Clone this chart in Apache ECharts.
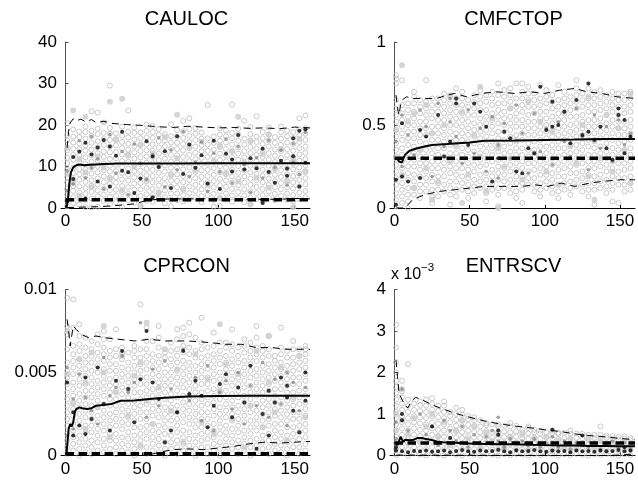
<!DOCTYPE html>
<html>
<head>
<meta charset="utf-8">
<script src="https://cdn.jsdelivr.net/npm/echarts@6/dist/echarts.min.js"></script>
<style>
  html, body { margin: 0; padding: 0; background: #fff; }
  #chart { width: 638px; height: 481px; }
</style>
</head>
<body>
<div id="chart"></div>
<script>
// Sample positions shared by all four panels (x = iteration)
const columnX = [1, 5, 9, 13, 17, 21, 25, 29, 33, 37,
                 41, 45, 49, 53, 57, 61, 65, 69, 73, 77,
                 81, 85, 89, 93, 97, 101, 105, 109, 113, 117,
                 121, 125, 129, 133, 137, 141, 145, 149, 153, 157];

const xTicks = [0, 50, 100, 150];

// ---------- CAULOC ----------
const cauHollow = [
  "0.4 1.8 3.3 4.6 6.1 7.4 9.2 10.8 12.1 13.9 16.3 17.6 20.4",
  "1.2 2.6 4.1 5.3 6.9 8.4 9.7 11.6 12.8 14.3 15.8 17.2 18.9",
  "0.8 2.4 3.7 5.2 6.8 8.1 9.4 11.1 12.6 14.2 15.6 17.1 18.4",
  "0.2 1.9 3.4 4.8 6.3 7.7 9.3 10.6 12.2 13.8 15.1 16.7 18.3 19.6",
  "0.1 2.3 3.9 5.4 6.7 8.3 9.8 11.2 12.7 14.1 15.7 17.3 18.6 23.3",
  "0.3 2.8 4.2 5.7 7.1 8.6 10.1 11.4 13.2 14.6 16.1 17.8 19.1 23.0",
  "1.7 3.2 4.7 6.2 7.6 9.1 10.7 12.3 13.6 15.2 16.6 18.1",
  "0.9 2.7 4.3 5.8 7.3 8.8 10.2 11.8 13.4 14.8 16.4 17.9 19.3 29.5",
  "1.4 2.9 4.4 6.1 7.5 8.9 10.4 12.0 13.5 15.1 16.6 18.0",
  "0.3 2.2 3.8 5.3 6.9 8.4 9.9 11.3 12.9 14.4 15.9 17.4 19.6",
  "1.9 3.4 5.0 6.6 8.0 9.5 11.1 12.6 14.0 15.5 17.0 18.4 23.5",
  "1.3 2.8 4.4 5.9 7.4 8.9 10.5 11.9 13.4 14.9 16.5 18.1 19.4",
  "0.4 2.9 4.5 6.0 7.6 9.0 10.6 12.2 13.7 15.3 16.8 18.2",
  "1.8 3.3 4.9 6.4 7.9 9.4 10.9 12.4 13.9 15.4 17.0 18.6 20.1",
  "1.5 3.1 4.6 6.2 7.7 9.2 10.8 12.3 13.8 15.3 16.9 18.3 19.8",
  "2.3 3.8 5.4 6.9 8.5 10.0 11.5 13.1 14.6 16.1 17.6 19.0",
  "1.1 2.6 4.2 5.7 7.2 8.8 10.3 11.9 13.4 14.9 16.3 17.8",
  "0.4 2.0 3.5 5.1 6.6 8.2 9.7 11.2 12.8 14.3 15.8 17.3 20.2",
  "1.9 3.5 5.0 6.5 8.1 9.6 11.1 12.7 14.2 15.7 17.2 18.8",
  "1.6 3.1 4.7 6.2 7.7 9.3 10.8 12.3 13.9 15.4 16.9 18.5 21.0",
  "2.1 3.6 5.2 6.7 8.2 9.8 11.3 12.8 14.4 15.9 17.4 19.0 21.6",
  "2.6 4.1 5.6 7.2 8.7 10.2 11.8 13.3 14.8 16.4 17.9 19.3",
  "1.4 2.9 4.5 6.0 7.5 9.1 10.6 12.1 13.7 15.2 16.7 18.2",
  "3.1 4.6 6.2 7.7 9.2 10.7 12.3 13.8 15.3 16.8 24.8",
  "0.3 1.9 3.4 5.0 6.5 8.0 9.6 11.1 12.6 14.1 15.7 17.2",
  "0.5 2.4 4.0 5.5 7.0 8.6 10.1 11.6 13.1 14.7 16.2 17.7 19.2",
  "2.0 3.5 5.1 6.6 8.1 9.7 11.2 12.7 14.2 15.8 17.3 18.7",
  "1.5 3.0 4.6 6.1 7.6 9.2 10.7 12.2 13.7 15.3 16.8 18.1 24.9",
  "2.4 3.9 5.5 7.0 8.5 10.1 11.6 13.1 14.6 16.2 17.7 19.1",
  "1.4 3.0 4.5 6.1 7.6 9.1 10.7 12.2 13.7 15.3 16.7 21.0",
  "0.9 2.5 4.0 5.6 7.1 8.6 10.2 11.7 13.2 14.7 16.3 17.8 19.5",
  "2.1 3.6 5.1 6.7 8.2 9.7 11.3 12.8 14.3 15.9 17.2 22.1",
  "1.6 3.1 4.6 6.2 7.7 9.2 10.8 12.3 13.8 15.4 16.8 18.3",
  "2.5 4.0 5.6 7.1 8.6 10.2 11.7 13.2 14.8 16.3 17.7 19.4",
  "1.9 3.4 5.0 6.5 8.0 9.6 11.1 12.6 14.1 15.7 17.1",
  "2.9 4.5 6.0 7.5 9.1 10.6 12.1 13.7 15.2 16.7 18.2 19.6",
  "2.0 3.5 5.0 6.6 8.1 9.6 11.2 12.7 14.2 15.8 17.3 18.6",
  "1.6 3.1 4.7 6.2 7.7 9.3 10.8 12.3 13.8 15.4 16.9 18.3",
  "2.2 3.7 5.2 6.8 8.3 9.8 11.4 12.9 14.4 15.9 17.5 18.9 21.6",
  "2.6 4.1 5.7 7.2 8.7 10.3 11.8 13.3 14.8 16.4 17.9 19.2 22.3"
];
const cauFilled = [
  "8.2 14.5", "23.5 6.1", "3.0 11.8", "22.0 8.6", "5.0", "12.4", "20.6 9.7", "25.6 7.0", "16.4", "26.3 4.2",
  "12.9", "9.9", "0.6 15.1", "6.8", "13.2", "10.4 3.6", "17.1", "7.9", "22.5 12.0", "4.4",
  "14.7", "9.1", "16.0", "5.6", "11.3", "2.3 15.0", "8.4", "13.6", "22.0 6.4", "10.9",
  "0.9 16.1", "7.3", "13.0", "4.9 17.7", "9.4", "14.2", "6.3", "0.2 11.5", "16.7", "8.9"
];
const cauGray = [
  "9.0 4.2", "5.8", "16.2", "7.3", "17.2 9.7", "11.8", "4.6", "17.7", "8.4", "13.6",
  "3.2", "15.4", "10.7", "6.9", "12.8", "16.9", "5.1", "14.0", "9.2", "18.4",
  "7.6", "11.1", "15.9", "4.0", "13.2", "8.7", "16.6", "6.0", "14.8", "10.5",
  "3.8", "12.1", "7.2", "16.3", "9.8", "13.9", "5.5", "15.5 11.0", "8.1", "18.2"
];
const cauBlack = [
  "1.6", "12.3 7.0", "13.6", "15.7 2.3", "12.9", "14.6 6.4", "16.4", "14.8 5.2", "12.6", "18.4 9.0",
  "8.6", "3.6", "7.1", "16.1", "12.4 2.6", "9.9", "13.7", "4.8", "17.3", "8.2",
  "15.3", "9.7", "12.7", "5.9", "16.2", "4.6", "13.1", "11.7 8.8", "17.6", "9.3",
  "12.0", "9.6", "1.2 14.3", "8.7", "6.1", "11.4", "9.5 7.8", "16.8 12.5", "18.6 5.2", "19.0 10.9"
];
const cauMean = [[0.5, 0], [1.5, 1.8], [2.5, 6.0], [3.5, 8.6], [5, 9.8], [7, 10.3], [9, 10.5], [12, 10.3],
  [16, 10.4], [20, 10.5], [25, 10.6], [35, 10.7], [50, 10.7], [70, 10.7], [100, 10.8], [130, 10.8], [160, 10.8]];
const cauUpper = [[1, 14.5], [2, 18.5], [3, 20.5], [5, 21.5], [7, 21.0], [10, 21.4], [13, 20.8], [17, 21.3],
  [20, 20.6], [25, 20.9], [30, 20.4], [40, 20.1], [50, 19.9], [60, 19.6], [70, 19.4], [80, 19.7], [90, 19.5],
  [100, 19.3], [110, 19.4], [120, 19.2], [130, 19.3], [140, 19.1], [150, 19.5], [160, 19.3]];
const cauLower = [[1, 0.1], [10, 0.2], [20, 0.3], [30, 0.5], [40, 0.8], [45, 1.0], [50, 1.5], [55, 1.9],
  [60, 2.1], [70, 2.2], [80, 2.2], [100, 2.2], [120, 2.1], [140, 2.1], [150, 2.3], [160, 2.2]];
const cauRef = 2;

// ---------- CMFCTOP ----------
const cmfHollow = [
  ".01 .05 .09 .14 .18 .22 .26 .31 .35 .39 .43 .47 .52 .56 .60 .65 .75 .78 .80",
  ".03 .07 .11 .15 .19 .24 .28 .32 .36 .41 .45 .49 .53 .57 .62 .77",
  ".00 .04 .08 .12 .17 .21 .25 .29 .33 .38 .42 .46 .50 .55 .59 .63",
  ".08 .12 .16 .20 .25 .29 .33 .37 .42 .46 .50 .54 .58 .63 .67 .70",
  ".06 .10 .14 .19 .23 .27 .31 .35 .40 .44 .48 .52 .57 .61 .65",
  ".10 .14 .18 .22 .27 .31 .35 .39 .44 .48 .52 .56 .60 .64 .77",
  ".03 .07 .11 .16 .20 .24 .28 .33 .37 .41 .45 .49 .54 .58 .62 .66",
  ".07 .11 .15 .19 .24 .28 .32 .36 .41 .45 .49 .53 .58 .62 .66",
  ".10 .14 .19 .23 .27 .31 .36 .40 .44 .48 .53 .57 .61 .65 .69",
  ".02 .08 .12 .16 .21 .25 .29 .33 .38 .42 .46 .50 .55 .59 .63 .67",
  ".07 .11 .16 .20 .24 .28 .33 .37 .41 .45 .50 .54 .58 .62 .66 .72",
  ".11 .15 .19 .24 .28 .32 .36 .41 .45 .49 .53 .57 .62 .66 .70",
  ".06 .10 .14 .18 .23 .27 .31 .35 .40 .44 .48 .52 .56 .61 .65",
  ".09 .13 .17 .22 .26 .30 .34 .39 .43 .47 .51 .56 .60 .64 .68",
  ".12 .16 .20 .25 .29 .33 .37 .42 .46 .50 .54 .59 .63 .67 .71",
  ".04 .09 .13 .17 .21 .26 .30 .34 .38 .43 .47 .51 .55 .59 .64 .68",
  ".11 .15 .19 .23 .28 .32 .36 .40 .45 .49 .53 .57 .62 .66 .70",
  ".01 .08 .12 .17 .21 .25 .29 .34 .38 .42 .46 .51 .55 .59 .63 .68 .75",
  ".12 .16 .20 .24 .29 .33 .37 .41 .46 .50 .54 .58 .63 .67 .71",
  ".09 .13 .17 .22 .26 .30 .34 .39 .43 .47 .51 .55 .60 .64 .68 .72",
  ".06 .10 .15 .19 .23 .27 .32 .36 .40 .44 .49 .53 .57 .61 .66 .75",
  ".03 .11 .15 .19 .24 .28 .32 .36 .41 .45 .49 .53 .58 .62 .66 .70 .75",
  ".14 .18 .22 .27 .31 .35 .39 .44 .48 .52 .56 .61 .65 .69 .73",
  ".10 .14 .18 .23 .27 .31 .35 .40 .44 .48 .52 .57 .61 .65 .69",
  ".07 .11 .15 .20 .24 .28 .32 .37 .41 .45 .49 .54 .58 .62 .66 .74",
  ".12 .16 .20 .25 .29 .33 .37 .42 .46 .50 .54 .58 .63 .67 .71",
  ".09 .13 .17 .21 .26 .30 .34 .38 .43 .47 .51 .55 .60 .64 .68",
  ".06 .10 .14 .19 .23 .27 .31 .36 .40 .44 .48 .53 .57 .61 .65 .74",
  ".11 .15 .19 .24 .28 .32 .36 .41 .45 .49 .53 .57 .62 .66 .70",
  ".08 .12 .16 .21 .25 .29 .33 .38 .42 .46 .50 .55 .59 .63 .67",
  ".13 .17 .21 .26 .30 .34 .38 .43 .47 .51 .55 .60 .64 .68 .72 .77",
  ".10 .14 .18 .22 .27 .31 .35 .39 .44 .48 .52 .56 .61 .65 .69",
  ".07 .11 .15 .20 .24 .28 .32 .37 .41 .45 .49 .53 .58 .62 .66 .72",
  ".02 .11 .15 .19 .24 .28 .32 .36 .41 .45 .49 .53 .58 .62 .66 .70",
  ".12 .16 .20 .25 .29 .33 .37 .42 .46 .50 .54 .59 .63 .67 .71",
  ".09 .13 .17 .22 .26 .30 .34 .39 .43 .47 .51 .56 .60 .64 .68",
  ".04 .11 .15 .19 .24 .28 .32 .36 .41 .45 .49 .53 .58 .62 .66 .70",
  ".03 .14 .18 .22 .27 .31 .35 .39 .44 .48 .52 .56 .61 .65 .69",
  ".10 .14 .18 .23 .27 .31 .35 .40 .44 .48 .52 .57 .61 .65 .69",
  ".11 .15 .19 .24 .28 .32 .36 .41 .45 .49 .53 .58 .62 .66 .70"
];
const cmfFilled = [
  ".47 .30", ".86 .20", ".52", ".12 .57", ".35", ".62 .24", ".45 .05", ".16", ".50", ".28 .68",
  ".38", ".58 .03", ".20", ".44", ".73 .31", ".10", ".54", ".00 .36", ".25", ".60",
  ".41", ".17", ".64", ".33", ".52", ".22", ".46", ".14", ".58", ".37",
  ".27", ".50", ".67 .19", ".05 .40", ".30", ".56", ".22", ".48", ".35", ".69 .15"
];
const cmfGray = [
  ".40", ".25 .56", ".44", ".32", ".59", ".49", ".19", ".63", ".37", ".66 .52",
  ".43", ".27", ".59", ".33", ".48", ".22", ".55", ".38 .18", ".51", ".30",
  ".62", ".45", ".21", ".57", ".34", ".48", ".26", ".52", ".40", ".31",
  ".60", ".43", ".23", ".56", ".36", ".49", ".28", ".53", ".38", ".45"
];
const cmfBlack = [
  ".02 .17", ".51 .19", ".16", "", ".18 .47", ".43", "", ".56", ".31", ".40",
  ".66 .63", "", ".38", ".63", ".58", ".49", ".16", ".30", ".46", ".42",
  ".22", ".21", ".36", ".33", ".73", ".47", ".64 .49", ".50", ".58", ".39",
  ".65", ".44", ".46 .75", ".41", ".49", ".36", ".29", ".56 .60", ".53 .33", ".43"
];
const cmfMean = [[0.5, 0.30], [2, 0.295], [3, 0.28], [4, 0.27], [5, 0.275], [6, 0.30], [7, 0.32], [8, 0.33],
  [10, 0.345], [15, 0.36], [20, 0.37], [25, 0.38], [35, 0.385], [50, 0.395], [60, 0.405], [80, 0.407],
  [100, 0.41], [120, 0.412], [140, 0.415], [160, 0.415]];
const cmfUpper = [[1, 0.68], [2, 0.60], [3, 0.56], [4, 0.62], [5, 0.65], [8, 0.67], [12, 0.66], [20, 0.66],
  [28, 0.66], [35, 0.68], [40, 0.69], [48, 0.67], [58, 0.69], [68, 0.70], [80, 0.69], [90, 0.70], [100, 0.69],
  [110, 0.71], [120, 0.72], [128, 0.70], [138, 0.69], [148, 0.67], [160, 0.66]];
const cmfLower = [[1, 0.00], [5, 0.00], [8, 0.01], [12, 0.05], [20, 0.08], [30, 0.10], [40, 0.11], [50, 0.12],
  [60, 0.13], [75, 0.13], [85, 0.13], [93, 0.14], [102, 0.13], [111, 0.15], [120, 0.13], [130, 0.15],
  [138, 0.16], [150, 0.17], [160, 0.17]];
const cmfRef = 0.3;

// ---------- CPRCON (values in units of 1e-3) ----------
const cprHollowMilli = [
  "0.1 0.5 0.9 1.3 1.8 2.2 2.6 3.0 3.4 3.8 4.3 4.7 5.1 5.6 6.4 7.3 7.8 9.5",
  "0.3 0.7 1.1 1.5 1.9 2.4 2.8 3.2 3.6 4.0 4.4 4.9 5.3 5.7 6.1 6.6 7.7 9.4",
  "0.0 0.4 0.8 1.2 1.7 2.1 2.5 2.9 3.3 3.7 4.2 4.6 5.0 5.4 5.8 6.3 6.7 7.2 7.9",
  "0.2 0.6 1.0 1.4 1.8 2.3 2.7 3.1 3.5 3.9 4.3 4.8 5.2 5.6 6.0 6.5 7.1",
  "0.1 0.5 0.9 1.4 1.8 2.2 2.6 3.0 3.5 3.9 4.3 4.7 5.1 5.6 6.0 6.4 6.9",
  "0.3 0.8 1.2 1.6 2.0 2.4 2.9 3.3 3.7 4.1 4.5 5.0 5.4 5.8 6.2 6.7 7.3",
  "0.2 0.6 1.0 1.5 1.9 2.3 2.7 3.1 3.6 4.0 4.4 4.8 5.2 5.7 6.1 6.5 7.0 7.5",
  "0.4 0.9 1.3 1.7 2.1 2.5 3.0 3.4 3.8 4.2 4.6 5.1 5.5 5.9 6.3 7.0",
  "0.1 0.5 0.9 1.3 1.8 2.2 2.6 3.0 3.4 3.9 4.3 4.7 5.1 5.5 6.0 6.4 7.6",
  "0.3 0.7 1.1 1.6 2.0 2.4 2.8 3.2 3.7 4.1 4.5 4.9 5.3 5.8 6.2 6.5",
  "0.2 0.6 1.0 1.4 1.9 2.3 2.7 3.1 3.5 4.0 4.4 4.8 5.2 5.6 6.2",
  "0.0 0.4 0.8 1.2 1.7 2.1 2.5 2.9 3.3 3.8 4.2 4.6 5.0 5.4 5.9 6.3 6.6",
  "0.5 0.9 1.3 1.7 2.2 2.6 3.0 3.4 3.8 4.3 4.7 5.1 5.5 5.9 6.4 9.1",
  "0.1 0.5 1.0 1.4 1.8 2.2 2.6 3.1 3.5 3.9 4.3 4.7 5.2 5.6 6.0 6.4 6.9 7.7",
  "0.3 0.7 1.1 1.5 1.9 2.4 2.8 3.2 3.6 4.0 4.5 4.9 5.3 5.7 6.1 6.9",
  "0.2 0.6 1.0 1.4 1.8 2.3 2.7 3.1 3.5 3.9 4.4 4.8 5.2 5.6 6.0 6.5 7.1 7.8",
  "0.0 0.4 0.8 1.3 1.7 2.1 2.5 2.9 3.4 3.8 4.2 4.6 5.0 5.5 5.9 6.2",
  "0.4 0.8 1.2 1.6 2.1 2.5 2.9 3.3 3.7 4.2 4.6 5.0 5.4 5.8 6.3 6.8",
  "0.1 0.5 0.9 1.4 1.8 2.2 2.6 3.0 3.5 3.9 4.3 4.7 5.1 5.6 6.0 6.4 7.0 7.6",
  "0.3 0.7 1.1 1.5 2.0 2.4 2.8 3.2 3.6 4.1 4.5 4.9 5.3 5.7 6.2 6.6 7.2 7.7",
  "0.2 0.6 1.0 1.4 1.9 2.3 2.7 3.1 3.5 4.0 4.4 4.8 5.2 5.6 6.1 6.5 7.3 8.0",
  "0.0 0.4 0.8 1.2 1.7 2.1 2.5 2.9 3.3 3.8 4.2 4.6 5.0 5.4 5.9 6.3 7.1",
  "0.5 0.9 1.3 1.7 2.2 2.6 3.0 3.4 3.8 4.3 4.7 5.1 5.5 5.9 6.4 6.8 8.3",
  "0.1 0.5 1.0 1.4 1.8 2.2 2.6 3.1 3.5 3.9 4.3 4.7 5.2 5.6 6.0 6.5",
  "0.3 0.7 1.1 1.5 1.9 2.4 2.8 3.2 3.6 4.0 4.5 4.9 5.3 5.7 6.1 6.6 7.4",
  "0.0 0.4 0.8 1.3 1.7 2.1 2.5 2.9 3.4 3.8 4.2 4.6 5.0 5.5 5.9 6.3 6.8",
  "0.2 0.6 1.0 1.4 1.8 2.3 2.7 3.1 3.5 3.9 4.4 4.8 5.2 5.6 6.0 6.5 6.8",
  "0.4 0.8 1.2 1.6 2.1 2.5 2.9 3.3 3.7 4.2 4.6 5.0 5.4 5.8 6.3 6.7 7.6",
  "0.1 0.5 0.9 1.4 1.8 2.2 2.6 3.0 3.5 3.9 4.3 4.7 5.1 5.6 6.0 6.5",
  "0.3 0.7 1.1 1.5 2.0 2.4 2.8 3.2 3.6 4.1 4.5 4.9 5.3 5.7 6.2 6.6 7.0",
  "0.0 0.5 0.9 1.3 1.7 2.1 2.6 3.0 3.4 3.8 4.2 4.7 5.1 5.5 5.9 6.3 6.8",
  "0.2 0.6 1.0 1.5 1.9 2.3 2.7 3.1 3.6 4.0 4.4 4.8 5.2 5.7 6.1 6.5 7.1 7.8",
  "0.4 0.8 1.2 1.7 2.1 2.5 2.9 3.3 3.8 4.2 4.6 5.0 5.4 5.9 6.3 6.6",
  "0.1 0.5 0.9 1.3 1.8 2.2 2.6 3.0 3.4 3.9 4.3 4.7 5.1 5.5 6.0 6.4 7.2",
  "0.3 0.7 1.1 1.5 1.9 2.4 2.8 3.2 3.6 4.0 4.5 4.9 5.3 5.7 6.0",
  "0.2 0.6 1.0 1.4 1.9 2.3 2.7 3.1 3.5 4.0 4.4 4.8 5.2 5.6 6.1 6.5 7.7",
  "0.0 0.4 0.8 1.2 1.7 2.1 2.5 2.9 3.3 3.8 4.2 4.6 5.0 5.4 5.9 6.3",
  "0.5 0.9 1.3 1.7 2.2 2.6 3.0 3.4 3.8 4.3 4.7 5.1 5.5 5.9 6.4 6.9",
  "0.1 0.5 1.0 1.4 1.8 2.2 2.6 3.1 3.5 3.9 4.3 4.7 5.2 5.6 6.0 6.4",
  "0.3 0.7 1.1 1.5 1.9 2.4 2.8 3.2 3.6 4.0 4.5 4.9 5.3 5.7 6.1 6.4 6.6"
];
const cprFilledMilli = [
  "4.9 7.5", "3.1", "5.8", "1.6 4.4", "6.2", "2.9", "7.8 5.0", "1.1", "3.8", "6.0",
  "2.4", "4.8", "0.6 5.6", "8.0 3.3", "1.9", "4.1", "6.4", "2.7", "5.2", "0.8",
  "3.6", "6.1", "2.0", "4.6", "1.3", "7.9 3.9", "5.5", "2.2", "4.9", "0.5",
  "3.0", "6.3", "1.7", "7.2 4.4", "2.6", "5.3", "0.9", "3.5", "6.0", "2.3"
];
const cprGrayMilli = [
  "5.3 1.2", "3.4 1.6", "4.9", "3.5", "2.7", "1.9", "5.9", "3.6", "4.1", "6.0",
  "3.8", "4.4", "8.0", "2.3", "5.2", "3.0", "5.7", "4.0", "2.6", "6.4",
  "3.3", "4.7", "2.1", "5.4", "1.5", "3.8", "4.5", "2.8", "5.0", "1.9",
  "4.2", "3.0", "5.6", "2.3", "4.6", "3.1", "1.8 5.0", "4.4", "2.7", "4.1"
];
const cprBlackMilli = [
  "4.4", "1.2 2.6", "1.8", "4.7 1.3", "2.2", "5.3", "3.1", "1.5", "4.5", "6.3",
  "4.0", "2.0", "4.6", "7.5", "4.4", "3.4", "0.8", "1.5", "2.6", "6.3",
  "3.7", "4.5", "3.6", "1.7", "3.0", "4.3", "4.9", "2.3", "4.1", "3.2",
  "5.4", "0.4", "2.5", "3.9 1.2", "3.2", "4.7", "4.2 3.5", "2.7", "1.4", "5.0 3.3"
];
const cprMeanMilli = [[0.5, 0], [1.5, 0], [2, 1.6], [3, 1.9], [4, 1.75], [5, 2.0], [6, 2.6], [7, 2.8],
  [9, 2.9], [11, 2.85], [14, 2.8], [17, 2.85], [20, 3.0], [25, 3.05], [30, 3.1], [33, 3.2], [36, 3.3],
  [45, 3.32], [55, 3.4], [65, 3.48], [80, 3.55], [100, 3.58], [120, 3.6], [140, 3.6], [160, 3.6]];
const cprUpperMilli = [[1, 8.2], [2, 7.5], [3, 6.6], [4, 7.2], [5, 7.8], [7, 7.6], [10, 7.3], [15, 7.1],
  [20, 7.2], [25, 7.1], [35, 7.0], [45, 6.9], [55, 7.0], [65, 6.9], [80, 6.9], [95, 6.8], [105, 6.7],
  [115, 6.7], [125, 6.5], [135, 6.5], [145, 6.4], [160, 6.4]];
const cprLowerMilli = [[1, 0], [50, 0], [55, 0.05], [62, 0.2], [70, 0.35], [80, 0.4], [90, 0.35], [100, 0.45],
  [110, 0.55], [120, 0.7], [130, 0.8], [140, 0.75], [150, 0.8], [160, 0.85]];
const cprRefMilli = 0.1;

// ---------- ENTRSCV (values in units of 1e-3) ----------
const entHollow = [
  "0.02 0.15 0.3 0.45 0.6 0.75 0.9 1.05 1.2 1.35 1.5 1.65 1.8 2.0 2.25 2.6 3.15",
  "0.05 0.2 0.35 0.5 0.65 0.8 0.95 1.1 1.25 1.4 1.55 1.8",
  "0.0 0.15 0.3 0.45 0.6 0.75 0.9 1.05 1.2 1.35 2.2",
  "0.05 0.2 0.35 0.5 0.65 0.8 0.95 1.1 1.25",
  "0.02 0.17 0.32 0.47 0.62 0.77 0.92 1.07 1.22 1.3",
  "0.0 0.15 0.3 0.45 0.6 0.75 0.9 1.05 1.2 1.35",
  "0.05 0.2 0.35 0.5 0.65 0.8 0.95 1.1 1.25 1.38",
  "0.02 0.17 0.32 0.47 0.62 0.77 0.92 1.07 1.2",
  "0.0 0.15 0.3 0.45 0.6 0.75 0.9 1.05 1.2 1.3",
  "0.05 0.2 0.35 0.5 0.65 0.8 0.95 1.05",
  "0.02 0.16 0.3 0.44 0.58 0.72 0.86 1.0 1.15",
  "0.0 0.14 0.28 0.42 0.56 0.7 0.84 0.98 1.1",
  "0.04 0.18 0.32 0.46 0.6 0.74 0.88 0.95",
  "0.02 0.15 0.29 0.43 0.57 0.71 0.85 0.92",
  "0.0 0.14 0.28 0.42 0.56 0.7 0.85",
  "0.04 0.17 0.31 0.45 0.59 0.73 0.78",
  "0.02 0.15 0.29 0.43 0.57 0.75",
  "0.0 0.14 0.28 0.42 0.56 0.7 0.75",
  "0.03 0.16 0.3 0.44 0.58 0.72",
  "0.01 0.14 0.28 0.42 0.56 0.7 0.78",
  "0.04 0.17 0.31 0.45 0.58 0.72",
  "0.02 0.15 0.28 0.42 0.55 0.62",
  "0.0 0.13 0.27 0.4 0.53 0.66 0.7",
  "0.03 0.16 0.3 0.43 0.56 0.62",
  "0.01 0.14 0.27 0.4 0.53 0.6",
  "0.04 0.17 0.3 0.43 0.56",
  "0.02 0.15 0.28 0.41 0.54 0.6",
  "0.0 0.13 0.26 0.39 0.52 0.55",
  "0.03 0.16 0.29 0.42 0.55",
  "0.01 0.14 0.27 0.4 0.53 0.6",
  "0.04 0.17 0.3 0.43 0.53",
  "0.02 0.15 0.28 0.41 0.52",
  "0.0 0.13 0.26 0.39 0.5",
  "0.03 0.16 0.29 0.42 0.5",
  "0.01 0.14 0.27 0.4 0.5 0.7",
  "0.04 0.17 0.3 0.43 0.48",
  "0.02 0.15 0.28 0.4 0.47",
  "0.0 0.13 0.26 0.38 0.45",
  "0.03 0.16 0.28 0.4 0.46",
  "0.01 0.14 0.26 0.37 0.42"
];
const entFilled = [
  "1.0 0.6", "1.6 0.85", "0.5", "0.9", "0.35", "0.7", "1.0", "0.45", "0.8", "0.25",
  "0.6", "0.85", "0.4", "0.7", "0.2", "0.55", "0.35", "0.5", "0.2", "0.45",
  "0.3", "0.5", "0.15", "0.4", "0.25", "0.45", "0.1", "0.35", "0.2", "0.4",
  "0.15", "0.3", "0.4", "0.2", "0.35", "0.1", "0.3", "0.2", "0.35", "0.25"
];
const entGray = [
  "0.8 0.4", "1.6", "0.6", "0.3", "1.0", "0.5", "0.7", "0.25", "0.85", "0.6",
  "0.35", "0.7", "0.2", "0.5", "0.3", "0.45", "0.6", "0.92 0.35", "0.2", "0.4",
  "0.15", "0.35", "0.25", "0.4", "0.2", "0.3", "0.45", "0.2", "0.35", "0.15",
  "0.3", "0.25", "0.2", "0.3", "0.15", "0.25", "0.35", "0.2", "0.3", "0.15"
];
const entBlack = [
  "0.2 0.12", "1.0 0.85 0.1", "0.08", "0.11", "0.1", "0.12", "0.7 0.09", "0.1", "0.12", "0.42 0.08",
  "0.11", "0.13", "0.1", "0.09", "0.12", "0.1", "0.11", "0.6 0.5 0.14", "0.1", "0.08",
  "0.12", "0.1", "0.11", "0.13", "0.1", "0.09", "0.62 0.12", "0.1", "0.11", "0.08",
  "0.12", "0.48 0.1", "0.11", "0.09", "0.12", "0.1", "0.11", "0.13", "0.1 0.2", "0.12"
];
const entMean = [[0.5, 0.3], [1, 0.28], [2, 0.25], [3, 0.35], [4, 0.45], [5, 0.38], [6, 0.33], [7, 0.38],
  [8, 0.35], [10, 0.37], [11, 0.33], [13, 0.38], [15, 0.42], [18, 0.42], [21, 0.4], [24, 0.38], [28, 0.34],
  [32, 0.32], [40, 0.31], [50, 0.29], [60, 0.28], [70, 0.27], [80, 0.27], [90, 0.26], [100, 0.25],
  [110, 0.24], [120, 0.24], [130, 0.23], [140, 0.23], [150, 0.22], [160, 0.22]];
const entUpper = [[1, 2.3], [2, 1.9], [3, 1.5], [5, 1.35], [7, 1.2], [9, 1.15], [11, 1.3], [14, 1.4],
  [18, 1.35], [25, 1.22], [30, 1.15], [40, 1.02], [50, 0.92], [60, 0.83], [70, 0.76], [80, 0.71],
  [90, 0.67], [100, 0.62], [110, 0.58], [120, 0.52], [130, 0.48], [140, 0.45], [150, 0.41], [160, 0.38]];
const entLower = [[1, 0.01], [140, 0.0], [150, 0.01], [160, 0.04]];
const entRef = 0.3;

// ---------- helpers ----------
function columnPoints(cols, scale) {
  const pts = [];
  cols.forEach((s, i) => {
    s.split(' ').filter(Boolean).forEach(v => pts.push([columnX[i], Number(v) * scale]));
  });
  return pts;
}
function scaleLine(line, scale) {
  return line.map(p => [p[0], p[1] * scale]);
}

const panels = [
  { name: 'CAULOC', scale: 1, yMax: 40, yInt: 10, hollow: cauHollow, filled: cauFilled, gray: cauGray, black: cauBlack,
    mean: cauMean, upper: cauUpper, lower: cauLower, ref: cauRef,
    grid: { left: 61, top: 42, width: 249, height: 166 } },
  { name: 'CMFCTOP', scale: 1, yMax: 1, yInt: 0.5, hollow: cmfHollow, filled: cmfFilled, gray: cmfGray, black: cmfBlack,
    mean: cmfMean, upper: cmfUpper, lower: cmfLower, ref: cmfRef,
    grid: { left: 390, top: 42, width: 245, height: 166 } },
  { name: 'CPRCON', scale: 0.001, yMax: 0.01, yInt: 0.005, hollow: cprHollowMilli, filled: cprFilledMilli,
    gray: cprGrayMilli, black: cprBlackMilli, mean: cprMeanMilli, upper: cprUpperMilli, lower: cprLowerMilli,
    ref: cprRefMilli, grid: { left: 61, top: 289.5, width: 249, height: 166 } },
  { name: 'ENTRSCV', scale: 1, yMax: 4, yInt: 1, hollow: entHollow, filled: entFilled, gray: entGray, black: entBlack,
    mean: entMean, upper: entUpper, lower: entLower, ref: entRef,
    grid: { left: 390, top: 289.5, width: 245, height: 166 } }
];

const FONT = '"Liberation Sans", Arial, Helvetica, sans-serif';
const grids = [], xAxes = [], yAxes = [], series = [], graphics = [];

panels.forEach((p, i) => {
  grids.push(Object.assign({ containLabel: false, outerBoundsMode: 'none' }, p.grid));
  xAxes.push({
    gridIndex: i, type: 'value', min: -3, max: 160,
    axisLine: { show: true, onZero: false, lineStyle: { color: '#000', width: 1 } },
    axisTick: { show: true, inside: true, length: 3, customValues: xTicks, lineStyle: { color: '#000' } },
    axisLabel: { customValues: xTicks, color: '#000', fontSize: 17, fontFamily: FONT, margin: 5 },
    splitLine: { show: false }
  });
  yAxes.push({
    gridIndex: i, type: 'value', min: 0, max: p.yMax, interval: p.yInt,
    axisLine: { show: true, lineStyle: { color: '#555', width: 1 } },
    axisTick: { show: true, inside: true, length: 3, lineStyle: { color: '#555' } },
    axisLabel: { color: '#000', fontSize: 17, fontFamily: FONT, margin: 4 },
    splitLine: { show: false }
  });
  const base = { xAxisIndex: i, yAxisIndex: i, silent: true, animation: false };
  series.push(Object.assign({}, base, {
    type: 'scatter', symbol: 'circle', symbolSize: 5, z: 2,
    itemStyle: { color: 'rgba(255,255,255,0)', borderColor: '#bcbcbc', borderWidth: 1 },
    data: columnPoints(p.hollow, p.scale)
  }));
  series.push(Object.assign({}, base, {
    type: 'scatter', symbol: 'circle', symbolSize: 6, z: 2,
    itemStyle: { color: '#cccccc' },
    data: columnPoints(p.filled, p.scale)
  }));
  series.push(Object.assign({}, base, {
    type: 'scatter', symbol: 'circle', symbolSize: 3.6, z: 3,
    itemStyle: { color: '#888888' },
    data: columnPoints(p.gray, p.scale)
  }));
  series.push(Object.assign({}, base, {
    type: 'scatter', symbol: 'circle', symbolSize: 4, z: 4,
    itemStyle: { color: '#000' },
    data: columnPoints(p.black, p.scale)
  }));
  [p.upper, p.lower].forEach(line => {
    series.push(Object.assign({}, base, {
      type: 'line', symbol: 'none', z: 5,
      lineStyle: { color: '#000', width: 1, type: [7, 5] },
      data: scaleLine(line, p.scale)
    }));
  });
  series.push(Object.assign({}, base, {
    type: 'line', symbol: 'none', z: 6,
    lineStyle: { color: '#000', width: 3.5, type: [8.5, 4.5], cap: 'butt' },
    data: [[0, p.ref * p.scale], [160, p.ref * p.scale]]
  }));
  series.push(Object.assign({}, base, {
    type: 'line', symbol: 'none', z: 7,
    lineStyle: { color: '#000', width: 2 },
    data: scaleLine(p.mean, p.scale)
  }));
  graphics.push({
    type: 'text', x: p.grid.left + p.grid.width / 2 + 1, y: p.grid.top - 23,
    style: { text: p.name, fill: '#000', font: '20px ' + FONT, textAlign: 'center', textVerticalAlign: 'middle' }
  });
});

// exponent label for the ENTRSCV axis
graphics.push({
  type: 'text', x: 391, y: 283,
  style: { text: 'x 10', fill: '#000', font: '16px ' + FONT, textAlign: 'left', textVerticalAlign: 'bottom' }
});
graphics.push({
  type: 'text', x: 421, y: 274,
  style: { text: '\u22123', fill: '#000', font: '11.5px ' + FONT, textAlign: 'left', textVerticalAlign: 'bottom' }
});

const chart = echarts.init(document.getElementById('chart'), null, { renderer: 'canvas' });
chart.setOption({
  animation: false,
  backgroundColor: '#fff',
  grid: grids,
  xAxis: xAxes,
  yAxis: yAxes,
  series: series,
  graphic: graphics
});
</script>
</body>
</html>
